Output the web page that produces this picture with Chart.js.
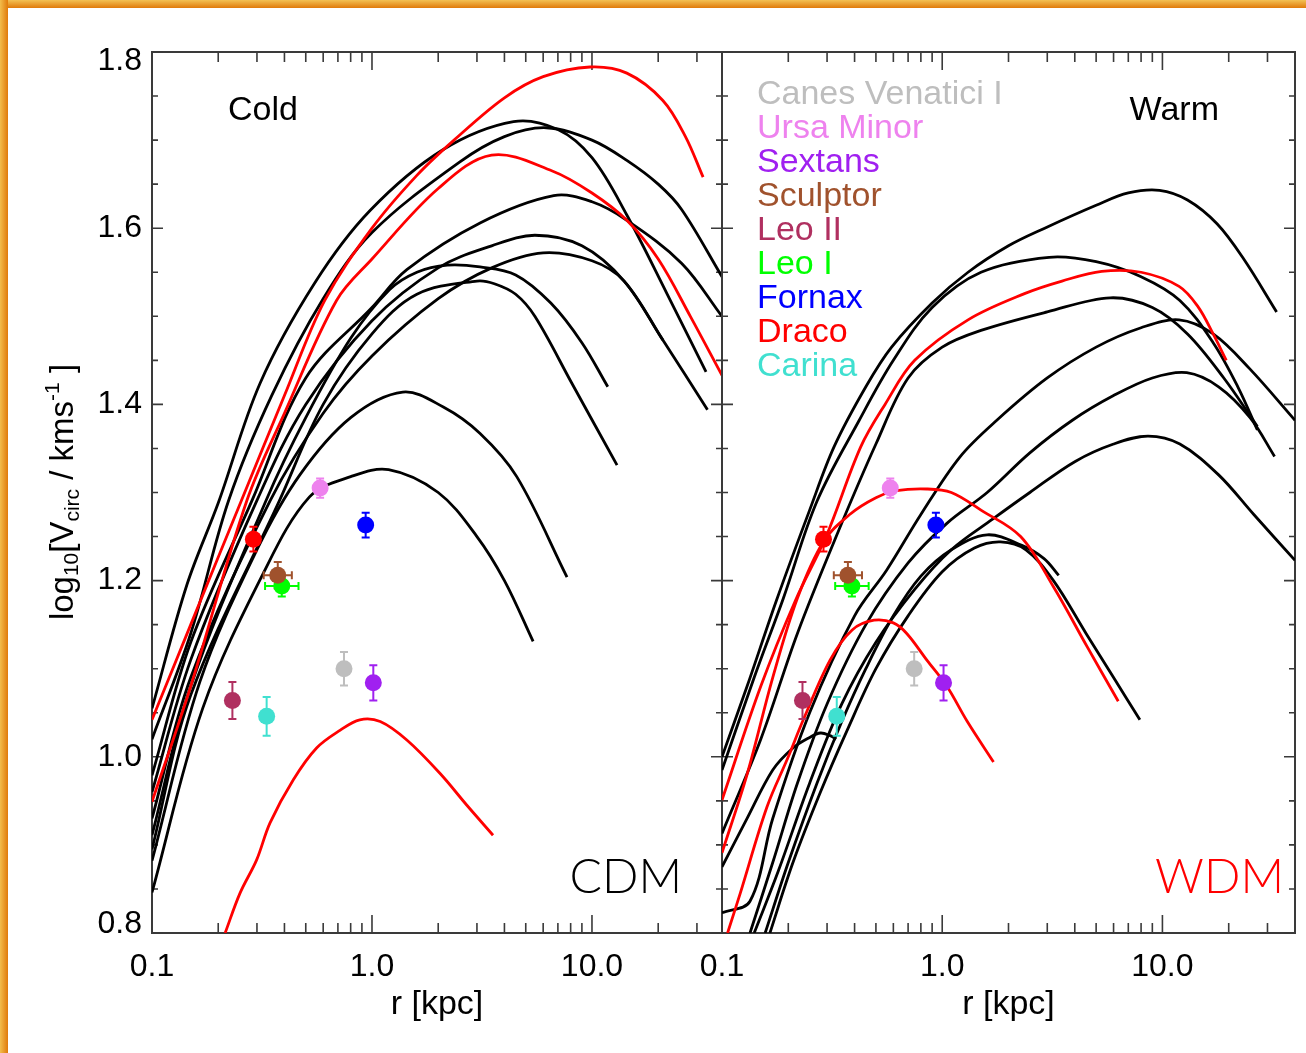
<!DOCTYPE html>
<html>
<head>
<meta charset="utf-8">
<title>Circular velocity curves: cold vs warm dark matter</title>
<script src="https://cdn.jsdelivr.net/npm/chart.js@4.4.1/dist/chart.umd.min.js"></script>
<style>
  html, body { margin: 0; padding: 0; background: #fff; }
  body { width: 1306px; height: 1053px; position: relative; overflow: hidden; }
  .band-top { position: absolute; left: 0; top: 0; width: 1306px; height: 8px; z-index: 2;
              background: linear-gradient(#f3c154, #e07a0a); }
  .band-left { position: absolute; left: 0; top: 0; width: 8px; height: 1053px; z-index: 2;
               background: linear-gradient(90deg, #f3bd4c, #e07a0a); }
  #cold { position: absolute; left: 0; top: 0; }
  #warm { position: absolute; left: 680px; top: 0; }
</style>
</head>
<body>
<div class="band-top"></div>
<div class="band-left"></div>
<canvas id="cold" width="740" height="1053"></canvas>
<canvas id="warm" width="626" height="1053"></canvas>

<script>
// ---- axes ----
const radiusLabelValues = [0.1, 1, 10];
const radiusTickLabels = ['0.1', '1.0', '10.0'];
const radiusTicks = [0.2, 0.3, 0.4, 0.5, 0.6, 0.7, 0.8, 0.9, 1, 2, 3, 4, 5, 6, 7, 8, 9, 10, 20, 30];
const radiusMajor = [1, 10];
const logVTickLabels = ['0.8', '1.0', '1.2', '1.4', '1.6', '1.8'];
const logVTicks = [0.8, 0.85, 0.9, 0.95, 1.0, 1.05, 1.1, 1.15, 1.2, 1.25, 1.3, 1.35, 1.4,
                   1.45, 1.5, 1.55, 1.6, 1.65, 1.7, 1.75, 1.8];
const coldRadiusMax = 39;
const warmRadiusMax = 40;

// ---- observed dwarf spheroidals: r_half [kpc], log10 Vcirc, errors ----
const dwarfNames = ['Canes Venatici I', 'Ursa Minor', 'Sextans', 'Sculptor', 'Leo II',
                    'Leo I', 'Fornax', 'Draco', 'Carina'];
const dwarfColors = ['#bebebe', '#ee82ee', '#a020f0', '#a0522d', '#b03060',
                     '#00ff00', '#0000ff', '#ff0000', '#40e0d0'];
const dwarfRadius = [0.746, 0.581, 1.014, 0.373, 0.232, 0.389, 0.936, 0.289, 0.332];
const dwarfLogV = [1.100, 1.305, 1.084, 1.206, 1.064, 1.194, 1.263, 1.247, 1.046];
const dwarfErrLogV = [0.019, 0.011, 0.020, 0.015, 0.021, 0.012, 0.014, 0.014, 0.022];
const dwarfErrLogR = [0, 0, 0, 0.064, 0, 0.076, 0, 0, 0];
const markerDrawOrder = [0, 1, 2, 4, 5, 3, 6, 7, 8];

// ---- cold (CDM) subhalo rotation curves: [r kpc, log10 Vcirc] ----
const coldBlack1 = [[0.1,1.055],[0.144,1.195],[0.2,1.288],[0.31,1.424],[0.55,1.538],[0.98,1.62],[2.1,1.689],[4.4,1.721],[7,1.712],[10,1.68],[14.4,1.615],[22,1.525],[33,1.437]];
const coldBlack2 = [[0.1,1.02],[0.15,1.14],[0.223,1.291],[0.35,1.41],[0.6,1.52],[1.0,1.595],[2.5,1.675],[4,1.704],[6.2,1.714],[10,1.70],[14.4,1.677],[20,1.65],[25.6,1.621],[39,1.545]];
const coldBlack3 = [[0.1,0.979],[0.15,1.13],[0.285,1.291],[0.5,1.43],[1.0,1.51],[1.44,1.553],[3.1,1.606],[6.7,1.637],[10,1.63],[14.4,1.609],[25.6,1.56],[39,1.50]];
const coldBlack4 = [[0.1,0.96],[0.15,1.11],[0.30,1.291],[0.5,1.40],[1.0,1.495],[2.0,1.555],[3.5,1.58],[5.5,1.592],[9,1.58],[14,1.54],[21,1.473]];
const coldBlack5 = [[0.1,0.93],[0.15,1.09],[0.345,1.291],[0.6,1.39],[1.0,1.455],[2.0,1.52],[3.5,1.555],[6,1.572],[10,1.563],[14,1.54],[21,1.473],[33.5,1.394]];
const coldBlack6 = [[0.1,0.911],[0.15,1.08],[0.33,1.291],[0.5,1.385],[0.8,1.475],[1.2,1.53],[1.6,1.55],[2.2,1.558],[3.1,1.556],[4.5,1.547],[6.5,1.515],[9,1.47],[11.8,1.42]];
const coldBlack7 = [[0.1,0.895],[0.15,1.07],[0.38,1.291],[0.6,1.40],[1.0,1.48],[1.6,1.525],[3.0,1.540],[3.6,1.537],[4.5,1.525],[5.5,1.50],[8.1,1.424],[13,1.331]];
const coldBlack8 = [[0.1,0.882],[0.165,1.085],[0.3,1.235],[0.47,1.32],[0.8,1.385],[1.38,1.414],[2.11,1.397],[3.1,1.367],[4.55,1.318],[7.7,1.204]];
const coldBlack9 = [[0.1,0.846],[0.17,1.055],[0.32,1.208],[0.52,1.295],[0.8,1.318],[1.19,1.326],[2,1.30],[3,1.25],[4,1.20],[5.4,1.131]];
const coldRed1 = [[0.1,1.042],[0.15,1.15],[0.255,1.291],[0.4,1.41],[0.61,1.518],[1.0,1.60],[1.6,1.66],[2.36,1.70],[4,1.748],[6,1.772],[9.8,1.783],[14.4,1.776],[21,1.745],[26.6,1.704],[32,1.658]];
const coldRed2 = [[0.1,0.949],[0.15,1.08],[0.27,1.291],[0.4,1.39],[0.69,1.518],[1.0,1.565],[2.0,1.645],[3.5,1.683],[6.6,1.665],[10,1.64],[14.4,1.609],[20,1.565],[28,1.50],[39,1.433]];
const coldRed3 = [[0.215,0.80],[0.251,0.845],[0.299,0.883],[0.344,0.925],[0.439,0.974],[0.56,1.010],[0.715,1.030],[0.88,1.042],[1.09,1.040],[1.44,1.019],[2.04,0.981],[2.7,0.945],[3.55,0.911]];

// ---- warm (WDM) subhalo rotation curves ----
const warmBlack1 = [[0.1,1.0],[0.13,1.08],[0.177,1.178],[0.25,1.28],[0.323,1.352],[0.45,1.42],[0.589,1.465],[0.9,1.515],[1.31,1.55],[2.0,1.58],[2.92,1.60],[5,1.626],[7,1.64],[9.7,1.643],[13,1.632],[17.7,1.605],[23.4,1.565],[33,1.505]];
const warmBlack2 = [[0.1,0.985],[0.14,1.09],[0.19,1.18],[0.27,1.29],[0.42,1.382],[0.6,1.45],[0.9,1.51],[1.5,1.55],[3.06,1.567],[5,1.562],[8,1.545],[12,1.518],[17,1.47],[22,1.42],[27,1.371]];
const warmBlack3 = [[0.1,0.913],[0.15,1.02],[0.22,1.14],[0.33,1.25],[0.5,1.355],[0.7,1.43],[1.0,1.465],[1.5,1.484],[3,1.505],[5.8,1.521],[9,1.51],[13,1.48],[19,1.43],[27,1.375]];
const warmBlack4 = [[0.1,0.823],[0.134,0.836],[0.17,0.93],[0.25,1.05],[0.4,1.16],[0.56,1.212],[0.8,1.275],[1.2,1.34],[1.77,1.382],[3,1.43],[5,1.465],[8,1.487],[11.9,1.496],[17,1.48],[25,1.44],[40,1.382]];
const warmBlack5 = [[0.134,0.80],[0.17,0.88],[0.22,0.97],[0.3,1.06],[0.45,1.15],[0.7,1.22],[1.05,1.265],[1.6,1.30],[2.5,1.345],[3.9,1.382],[6,1.41],[9,1.43],[12.9,1.436],[18,1.42],[25,1.385],[32.3,1.341]];
const warmBlack6 = [[0.14,0.80],[0.18,0.87],[0.25,0.97],[0.35,1.06],[0.5,1.13],[0.75,1.19],[1.1,1.235],[1.7,1.27],[2.5,1.30],[4,1.335],[6,1.355],[8.6,1.364],[12,1.355],[18,1.32],[26,1.275],[40,1.223]];
const warmBlack7 = [[0.157,0.80],[0.2,0.88],[0.27,0.97],[0.35,1.04],[0.45,1.10],[0.6,1.16],[0.8,1.205],[1.1,1.235],[1.6,1.252],[2.3,1.24],[2.9,1.225],[3.38,1.206]];
const warmBlack8 = [[0.165,0.80],[0.21,0.88],[0.28,0.96],[0.37,1.03],[0.5,1.10],[0.7,1.16],[1.0,1.21],[1.4,1.237],[1.84,1.244],[2.4,1.235],[3.2,1.20],[4.5,1.14],[6,1.09],[7.9,1.042]];
const warmBlack9 = [[0.1,0.875],[0.13,0.93],[0.17,0.985],[0.21,1.01],[0.25,1.022],[0.28,1.027],[0.31,1.024],[0.33,1.02]];
const warmRed1 = [[0.1,0.951],[0.15,1.08],[0.216,1.178],[0.297,1.25],[0.427,1.352],[0.55,1.40],[0.75,1.45],[1.31,1.496],[2.38,1.526],[3.5,1.54],[5.3,1.551],[8,1.55],[11.9,1.534],[14.5,1.511],[17,1.48],[19.5,1.45]];
const warmRed2 = [[0.1,0.891],[0.13,0.98],[0.17,1.09],[0.22,1.18],[0.29,1.245],[0.38,1.275],[0.5,1.294],[0.62,1.302],[0.85,1.304],[1.1,1.3],[1.5,1.28],[2.27,1.25],[3.2,1.193],[4.55,1.125],[6.3,1.063]];
const warmRed3 = [[0.106,0.80],[0.121,0.845],[0.16,0.943],[0.2,1.0],[0.234,1.042],[0.31,1.11],[0.39,1.144],[0.49,1.155],[0.6,1.152],[0.69,1.14],[0.85,1.11],[1.05,1.08],[1.3,1.04],[1.71,0.994]];

const coldBlack = [coldBlack1, coldBlack2, coldBlack3, coldBlack4, coldBlack5, coldBlack6, coldBlack7, coldBlack8, coldBlack9];
const coldRed = [coldRed1, coldRed2, coldRed3];
const warmBlack = [warmBlack1, warmBlack2, warmBlack3, warmBlack4, warmBlack5, warmBlack6, warmBlack7, warmBlack8, warmBlack9];
const warmRed = [warmRed1, warmRed2, warmRed3];

const SANS = "'Liberation Sans', Arial, Helvetica, sans-serif";
const FRAME = '#3a3a3a';
Chart.defaults.font.family = SANS;
Chart.defaults.color = '#000';

function drawErrorBars(chart) {
  const { ctx, scales: { x, y } } = chart;
  ctx.save();
  ctx.lineWidth = 2;
  markerDrawOrder.forEach(i => {
    const px = x.getPixelForValue(dwarfRadius[i]);
    const py = y.getPixelForValue(dwarfLogV[i]);
    const top = y.getPixelForValue(dwarfLogV[i] + dwarfErrLogV[i]);
    const bot = y.getPixelForValue(dwarfLogV[i] - dwarfErrLogV[i]);
    ctx.strokeStyle = dwarfColors[i];
    ctx.beginPath();
    ctx.moveTo(px, top); ctx.lineTo(px, bot);
    ctx.moveTo(px - 4, top); ctx.lineTo(px + 4, top);
    ctx.moveTo(px - 4, bot); ctx.lineTo(px + 4, bot);
    if (dwarfErrLogR[i] > 0) {
      const f = Math.pow(10, dwarfErrLogR[i]);
      const lx = x.getPixelForValue(dwarfRadius[i] / f);
      const rx = x.getPixelForValue(dwarfRadius[i] * f);
      ctx.moveTo(lx, py); ctx.lineTo(rx, py);
      ctx.moveTo(lx, py - 4); ctx.lineTo(lx, py + 4);
      ctx.moveTo(rx, py - 4); ctx.lineTo(rx, py + 4);
    }
    ctx.stroke();
  });
  ctx.restore();
}

// rotated y title with sub/superscripts
function drawYTitle(ctx, cx, cy) {
  const big = 33, small = 21;
  const parts = [['log', big, 0], ['10', small, 5], ['[V', big, 0], ['circ', small, 6],
                 [' / kms', big, 0], ['-1', small, -14], [' ]', big, 0]];
  ctx.save();
  ctx.translate(cx, cy);
  ctx.rotate(-Math.PI / 2);
  ctx.fillStyle = '#000';
  ctx.textBaseline = 'alphabetic';
  ctx.textAlign = 'left';
  let total = 0;
  parts.forEach(p => { ctx.font = p[1] + 'px ' + SANS; total += ctx.measureText(p[0]).width; });
  let pos = -total / 2;
  parts.forEach(p => {
    ctx.font = p[1] + 'px ' + SANS;
    ctx.fillText(p[0], pos, p[2]);
    pos += ctx.measureText(p[0]).width;
  });
  ctx.restore();
}

const panelDecor = {
  id: 'panelDecor',
  beforeDatasetsDraw(chart) {
    const { ctx, chartArea: a, scales: { x, y } } = chart;
    ctx.save();
    ctx.strokeStyle = FRAME;
    ctx.lineWidth = 2;
    ctx.strokeRect(a.left, a.top, a.right - a.left, a.bottom - a.top);
    ctx.lineWidth = 1.6;
    ctx.beginPath();
    radiusTicks.forEach(v => {
      const px = x.getPixelForValue(v);
      const len = radiusMajor.includes(v) ? 18 : 10;
      ctx.moveTo(px, a.bottom); ctx.lineTo(px, a.bottom - len);
      ctx.moveTo(px, a.top); ctx.lineTo(px, a.top + len);
    });
    logVTicks.forEach((v, i) => {
      const py = y.getPixelForValue(v);
      const len = i % 4 === 0 ? 11 : 6;
      ctx.moveTo(a.left, py); ctx.lineTo(a.left + len, py);
      ctx.moveTo(a.right, py); ctx.lineTo(a.right - len, py);
    });
    ctx.stroke();
    ctx.restore();
  },
  beforeDatasetDraw(chart, args) {
    if (args.meta.type === 'scatter') drawErrorBars(chart);
  },
  afterDraw(chart, args, opts) {
    const { ctx, chartArea: a } = chart;
    ctx.save();
    ctx.textBaseline = 'alphabetic';
    // panel name
    ctx.fillStyle = '#000';
    ctx.font = '34px ' + SANS;
    ctx.textAlign = opts.nameAlign;
    ctx.fillText(opts.name, opts.nameAlign === 'left' ? a.left + 76 : a.right - 76, a.top + 68);
    // model tag
    ctx.fillStyle = opts.modelColor;
    ctx.font = "300 48px Lato, 'DejaVu Sans', sans-serif";
    ctx.textAlign = 'right';
    ctx.fillText(opts.model, a.right - opts.modelInset, a.bottom - 40);
    // dwarf legend
    if (opts.legend) {
      ctx.font = '34px ' + SANS;
      ctx.textAlign = 'left';
      dwarfNames.forEach((name, i) => {
        ctx.fillStyle = dwarfColors[i];
        ctx.fillText(name, a.left + 35, a.top + 51.5 + i * 34);
      });
    }
    ctx.restore();
    if (opts.yTitle) drawYTitle(ctx, 73, 492);
  }
};

function curveDataset(points, color) {
  return {
    type: 'line',
    data: points.map(([r, v]) => ({ x: r, y: v })),
    borderColor: color,
    borderWidth: 2.8,
    pointRadius: 0,
    fill: false,
    tension: 0.35,
    borderJoinStyle: 'round'
  };
}

function markerDataset() {
  return {
    type: 'scatter',
    data: markerDrawOrder.map(i => ({ x: dwarfRadius[i], y: dwarfLogV[i] })),
    pointBackgroundColor: markerDrawOrder.map(i => dwarfColors[i]),
    pointBorderWidth: 0,
    pointBorderColor: 'rgba(0,0,0,0)',
    pointRadius: 8.5
  };
}

function makePanel(canvasId, blacks, reds, xMax, yWidth, padRight, showYLabels, decor) {
  const datasets = [markerDataset()]
    .concat(reds.map(c => curveDataset(c, '#ff0000')))
    .concat(blacks.map(c => curveDataset(c, '#000000')));
  return new Chart(document.getElementById(canvasId), {
    type: 'line',
    data: { datasets },
    options: {
      responsive: false,
      animation: false,
      events: [],
      layout: { padding: { left: 0, right: padRight, top: 52, bottom: 28 } },
      plugins: {
        legend: { display: false },
        tooltip: { enabled: false },
        panelDecor: decor
      },
      scales: {
        x: {
          type: 'logarithmic',
          min: 0.1,
          max: xMax,
          grid: { display: false, drawTicks: false },
          border: { display: false },
          afterBuildTicks: s => { s.ticks = radiusLabelValues.map(value => ({ value })); },
          afterFit: s => { s.height = 92; },
          ticks: {
            autoSkip: false, maxRotation: 0, padding: 15,
            font: { size: 32 }, color: '#000',
            callback: (v, i) => radiusTickLabels[i]
          },
          title: {
            display: true, text: 'r [kpc]', color: '#000',
            font: { size: 34 }, padding: { top: 0, bottom: 0 }
          }
        },
        y: {
          min: 0.8,
          max: 1.8,
          grid: { display: false, drawTicks: false },
          border: { display: false },
          afterFit: s => { s.width = yWidth; },
          ticks: {
            display: showYLabels, stepSize: 0.2, padding: 10,
            font: { size: 32, lineHeight: 0.56 }, color: '#000',
            callback: (v, i) => {
              const label = logVTickLabels[i];
              if (i === 0) return [label, ''];
              if (i === logVTickLabels.length - 1) return ['', label];
              return label;
            }
          }
        }
      }
    },
    plugins: [panelDecor]
  });
}

makePanel('cold', coldBlack, coldRed, coldRadiusMax, 152, 18, true,
  { name: 'Cold', nameAlign: 'left', model: 'CDM', modelColor: '#000', modelInset: 40, legend: false, yTitle: true });
makePanel('warm', warmBlack, warmRed, warmRadiusMax, 42, 11, false,
  { name: 'Warm', nameAlign: 'right', model: 'WDM', modelColor: '#ff0000', modelInset: 11, legend: true, yTitle: false });
</script>
</body>
</html>
